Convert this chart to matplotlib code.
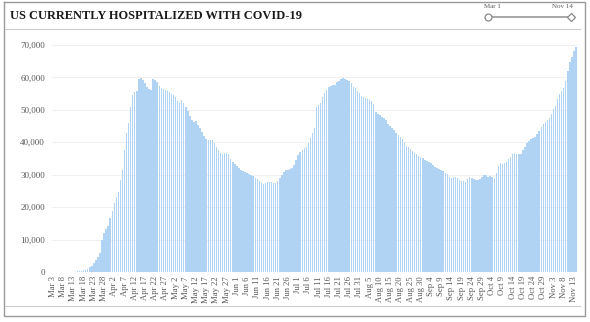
import matplotlib
matplotlib.use("Agg")
import matplotlib.pyplot as plt
import numpy as np
import datetime as dt

# currently hospitalized, one value per day from Mar 3 to Nov 14
mar = [0, 0, 0, 0, 0, 20, 30, 40, 60, 80, 100, 150, 200, 300, 400, 500, 700,
       1000, 1400, 2000, 2800, 3600, 4700, 6000, 9800, 12000, 13200, 14300, 16500]
apr = [18800, 21300, 23200, 24800, 28400, 31500, 37500, 42900, 46000, 51000,
       54600, 55400, 55800, 59600, 59900, 59200, 58300, 57200, 56300, 56200,
       59600, 59200, 58600, 57400, 56600, 56300, 56200, 55900, 55400, 54800]
may = [54500, 54100, 52600, 52000, 53000, 52200, 51000, 49700, 48000, 46900,
       46400, 46600, 45400, 44500, 43300, 41800, 41100, 40700, 40800, 40600,
       39700, 38700, 37500, 36600, 36500, 36700, 36600, 36400, 34800, 33900, 33200]
jun = [32700, 32100, 31500, 31100, 30700, 30500, 30300, 29900, 29500, 29000,
       28600, 28000, 27400, 27200, 27500, 27700, 27600, 27600, 27400, 27300,
       28000, 28900, 30000, 30900, 31300, 31500, 31800, 32000, 33000, 34600]
jul = [36000, 37100, 37700, 38200, 38700, 39700, 41300, 43000, 44300, 51000,
       51600, 52200, 54000, 55300, 56200, 57200, 57400, 57600, 57800, 58600,
       59000, 59400, 59700, 59500, 59200, 58900, 58300, 57200, 56600, 55800, 55300]
aug = [54400, 54000, 53700, 53300, 53100, 52600, 51700, 49400, 48800, 48400,
       47900, 47400, 46900, 45700, 45000, 44300, 43700, 43000, 42300, 41600,
       41000, 39700, 38800, 38400, 37800, 37400, 36800, 36300, 35800, 35600, 35200]
sep = [34600, 34200, 33800, 33500, 33000, 32400, 32000, 31900, 31500, 31200,
       30600, 30300, 29400, 28900, 29300, 29200, 29000, 28500, 28200, 28000,
       27900, 28600, 29200, 29000, 28700, 28500, 28400, 28600, 29300, 29900]
oct_ = [29800, 29400, 29500, 29300, 29000, 30400, 32800, 33600, 33400, 33600,
        34000, 34800, 35500, 36400, 36600, 36500, 36400, 36300, 37500, 38700,
        39700, 40500, 41000, 41300, 41500, 42600, 43600, 44600, 45700, 46400, 47000]
nov = [47400, 48600, 50300, 51300, 53300, 54800, 55800, 56700, 58800, 62000,
       64900, 66400, 68200, 69500]

hospitalized = mar + apr + may + jun + jul + aug + sep + oct_ + nov
start = dt.date(2020, 3, 3)
days = [start + dt.timedelta(days=i) for i in range(len(hospitalized))]
labels = [d.strftime("%b ") + str(d.day) for d in days]

serif = ["Liberation Serif", "DejaVu Serif"]
grey_txt = "#595959"

fig = plt.figure(figsize=(5.9, 3.22), dpi=100)

# decorations: frame, title, separator lines, date slider (pixel coords)
deco = fig.add_axes([0, 0, 1, 1])
deco.set_xlim(0, 590)
deco.set_ylim(322, 0)
deco.axis("off")
deco.plot([4, 585, 585, 4, 4], [2, 2, 316, 316, 2], color="#9a9a9a", lw=1.0)
deco.plot([5, 580], [29, 29], color="#cccccc", lw=0.8)
deco.plot([5, 580], [306, 306], color="#cccccc", lw=0.8)
deco.text(10, 16, "US CURRENTLY HOSPITALIZED WITH COVID-19", family=serif,
          fontweight="bold", fontsize=8.9, color="#1a1a1a", va="center", ha="left")
deco.plot([488, 571], [17, 17], color="#9a9a9a", lw=1.2)
deco.plot([488], [17], marker="o", ms=5, mfc="white", mec="#888888", mew=0.9)
deco.plot([571], [17], marker="D", ms=4.5, mfc="white", mec="#888888", mew=0.9)
deco.text(492, 6, "Mar 1", family=serif, fontsize=5, color=grey_txt, ha="center", va="center")
deco.text(562, 6, "Nov 14", family=serif, fontsize=5, color=grey_txt, ha="center", va="center")

ax = fig.add_axes([52 / 590, 50 / 322, 525 / 590, 227 / 322])
x = np.arange(len(hospitalized))
ax.bar(x, hospitalized, width=0.72, color="#b0d2f3", zorder=2)
ax.set_xlim(-0.5, len(hospitalized) - 0.5)
ax.set_ylim(0, 70000)
ax.set_yticks(np.arange(0, 70001, 10000))
ax.set_yticklabels([f"{v:,}" for v in range(0, 70001, 10000)],
                   family=serif, fontsize=6.5, color=grey_txt)
ax.set_xticks(x[::5])
ax.set_xticklabels(labels[::5], rotation=90, family=serif, fontsize=6.2, color=grey_txt)
ax.tick_params(length=0, pad=5)
ax.tick_params(axis="x", pad=3)
ax.grid(axis="y", color="#f0f0f0", lw=0.8, zorder=0)
for s in ax.spines.values():
    s.set_visible(False)
ax.patch.set_alpha(0)

fig.savefig("out.png", dpi=100)
